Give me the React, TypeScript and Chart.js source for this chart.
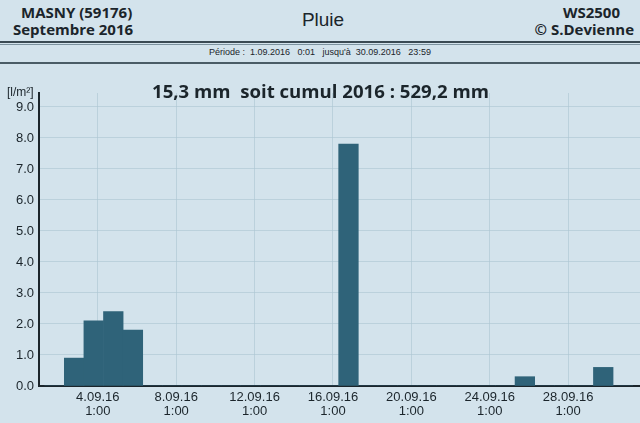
import React, { useEffect, useRef } from "react";
import { Chart, registerables } from "chart.js";

Chart.register(...registerables);

// ---- data (Septembre 2016, rain per day, l/m²) ----
const days = [
  1, 2, 3, 4, 5, 6, 7, 8, 9, 10, 11, 12, 13, 14, 15,
  16, 17, 18, 19, 20, 21, 22, 23, 24, 25, 26, 27, 28, 29, 30,
];
const rainPerDay = [
  0, 0.9, 2.1, 2.4, 1.8, 0, 0, 0, 0, 0, 0, 0, 0, 0, 0,
  7.8, 0, 0, 0, 0, 0, 0, 0, 0, 0.3, 0, 0, 0, 0.6, 0,
];
const yTickValues = [0, 1, 2, 3, 4, 5, 6, 7, 8, 9];
const xTickDays = [4, 8, 12, 16, 20, 24, 28];
const xTickLabels = [
  ["4.09.16", "1:00"],
  ["8.09.16", "1:00"],
  ["12.09.16", "1:00"],
  ["16.09.16", "1:00"],
  ["20.09.16", "1:00"],
  ["24.09.16", "1:00"],
  ["28.09.16", "1:00"],
];

// time axis in hours since 1.09.2016 0:00
const HOURS = 24;
const rainDayCenterHour = 20; // rain day 8:00 -> 8:00, centre at 20:00
const tickHour = 1; // ticks at 1:00
const xMin = 1;
const xMax = 737;
const yMax = 9.45;

const BG = "#d3e3ec";
const INK = "#1b252b";
const BAR = "#2f6379";
const GRID = "rgba(172,196,210,0.6)";

export default function App() {
  const canvasRef = useRef<HTMLCanvasElement | null>(null);

  useEffect(() => {
    const ctx = canvasRef.current!.getContext("2d")!;
    const chart = new Chart(ctx, {
      type: "bar",
      data: {
        datasets: [
          {
            data: days.map((d, i) => ({ x: (d - 1) * HOURS + rainDayCenterHour, y: rainPerDay[i] })),
            backgroundColor: BAR,
            borderWidth: 0,
            barPercentage: 1,
            categoryPercentage: 1,
          },
        ],
      },
      options: {
        animation: false,
        responsive: false,
        layout: { padding: { top: 93, left: 0, right: 0, bottom: 0 } },
        plugins: { legend: { display: false }, tooltip: { enabled: false }, title: { display: false } },
        scales: {
          x: {
            type: "linear",
            min: xMin,
            max: xMax,
            offset: false,
            afterBuildTicks: (scale: any) => {
              scale.ticks = xTickDays.map((d) => ({ value: (d - 1) * HOURS + tickHour }));
            },
            afterFit: (scale: any) => {
              scale.height = 37;
            },
            grid: { color: GRID, lineWidth: 1, drawTicks: false, offset: false },
            border: { color: INK, width: 2 },
            ticks: {
              autoSkip: false,
              maxRotation: 0,
              padding: 4,
              color: INK,
              font: { family: "'Liberation Sans', Arial, sans-serif", size: 13, lineHeight: 1.1 },
              callback: (_v: any, i: number) => xTickLabels[i],
            },
          },
          y: {
            type: "linear",
            min: 0,
            max: yMax,
            afterBuildTicks: (scale: any) => {
              scale.ticks = yTickValues.map((v) => ({ value: v }));
            },
            afterFit: (scale: any) => {
              scale.width = 39;
            },
            grid: { color: GRID, lineWidth: 1, drawTicks: false },
            border: { color: INK, width: 2 },
            ticks: {
              padding: 5,
              color: INK,
              font: { family: "'Liberation Sans', Arial, sans-serif", size: 13 },
              callback: (v: any) => Number(v).toFixed(1),
            },
          },
        },
      },
    });
    return () => chart.destroy();
  }, []);

  const bold = "'Open Sans', sans-serif";
  const sans = "'Liberation Sans', Arial, sans-serif";
  const txt = (extra: React.CSSProperties): React.CSSProperties => ({
    position: "absolute",
    whiteSpace: "pre",
    color: INK,
    margin: 0,
    ...extra,
  });

  return (
    <div style={{ position: "fixed", left: 0, top: 0, width: 640, height: 423, background: BG, overflow: "hidden" }}>
      <div style={txt({ left: 21, top: 3, font: `700 15px/18px ${bold}` })}>MASNY (59176)</div>
      <div style={txt({ left: 13, top: 20, font: `700 15px/18px ${bold}` })}>Septembre 2016</div>
      <div style={txt({ left: 0, width: 646, top: 9, textAlign: "center", font: `400 19px/22px ${sans}` })}>Pluie</div>
      <div style={txt({ right: 20, top: 3, font: `700 15px/18px ${bold}` })}>WS2500</div>
      <div style={txt({ right: 6, top: 20, font: `700 15px/18px ${bold}` })}>© S.Devienne</div>
      <div style={{ position: "absolute", left: 0, width: 640, top: 41, height: 2, background: "#3a4a53" }} />
      <div style={{ position: "absolute", left: 0, width: 640, top: 44, height: 1, background: "#7d939f" }} />
      <div style={txt({ left: 209, top: 47, font: `400 9px/11px ${sans}` })}>
        {"Période :  1.09.2016   0:01   jusqu'à  30.09.2016   23:59"}
      </div>
      <div style={{ position: "absolute", left: 0, width: 640, top: 62, height: 1.5, background: "#4a5c66" }} />
      <canvas ref={canvasRef} width={640} height={423} style={{ position: "absolute", left: 0, top: 0 }} />
      <div style={txt({ left: 7, top: 85, font: `400 12px/14px ${sans}` })}>[l/m²]</div>
      <div style={txt({ left: 152, top: 79, font: `700 18.6px/24px ${bold}` })}>15,3 mm  soit cumul 2016 : 529,2 mm</div>
    </div>
  );
}
